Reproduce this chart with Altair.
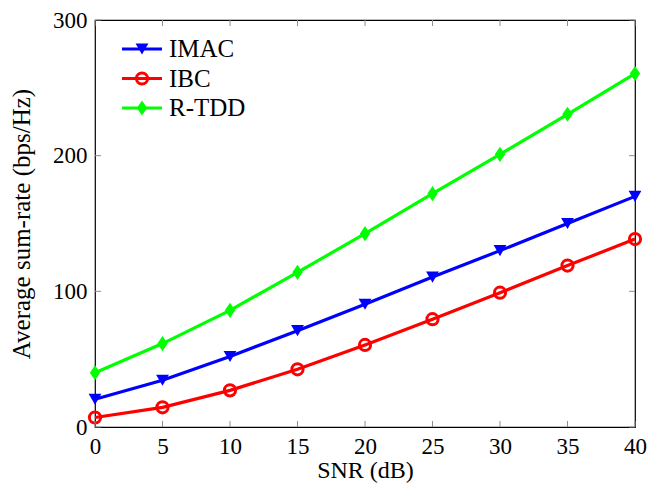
import altair as alt
import pandas as pd

# ---- data ----
snr = [0, 5, 10, 15, 20, 25, 30, 35, 40]
series_names = ["IMAC", "IBC", "R-TDD"]
imac = [20.5, 34.5, 52, 71, 90.5, 110.5, 130, 150, 170]
ibc = [7, 14.5, 27, 42.5, 60.5, 79.5, 99, 119, 138.5]
rtdd = [40, 61.5, 86, 114, 142.5, 172, 201, 230.5, 260.5]
x_ticks = [0, 5, 10, 15, 20, 25, 30, 35, 40]
y_ticks = [0, 100, 200, 300]

colors = ["#0000ff", "#ff0000", "#00ff00"]
FONT = "Liberation Serif"
FS = 23
TFS = 25
W, H = 540, 407
TICK = 6

rows = []
for name, vals in zip(series_names, [imac, ibc, rtdd]):
    for s, v in zip(snr, vals):
        rows.append({"snr": s, "rate": v, "series": name})
df = pd.DataFrame(rows)

xs = alt.Scale(domain=[0, 40], nice=False, zero=False)
ys = alt.Scale(domain=[0, 300], nice=False)
x_axis = alt.Axis(values=x_ticks, labelPadding=8, titlePadding=0, labelFlush=False,
                  titleFontSize=24)
y_axis = alt.Axis(values=y_ticks, labelPadding=8, titlePadding=18)
X_TITLE = "SNR (dB)"
Y_TITLE = "Average sum-rate (bps/Hz)"
color = alt.Color("series:N", scale=alt.Scale(domain=series_names, range=colors), legend=None)


def xenc(field):
    return alt.X(field, scale=xs, title=X_TITLE, axis=x_axis)


def yenc(field):
    return alt.Y(field, scale=ys, title=Y_TITLE, axis=y_axis)


markers = {
    "IMAC": dict(shape="triangle-down", filled=True, size=165),
    "IBC": dict(shape="circle", filled=False, size=125, strokeWidth=3),
    "R-TDD": dict(shape="M0,-1L0.68,0L0,1L-0.68,0Z", filled=True, size=230),
}

base = alt.Chart(df)
lines = base.mark_line(strokeWidth=3.2).encode(
    x=xenc("snr:Q"), y=yenc("rate:Q"), color=color)

point_layers = []
for name, c in zip(series_names, colors):
    point_layers.append(
        base.transform_filter(alt.datum.series == name)
        .mark_point(color=c, opacity=1, **markers[name])
        .encode(x=xenc("snr:Q"), y=yenc("rate:Q"))
    )

xt = alt.Chart(pd.DataFrame({"t": x_ticks}))
yt = alt.Chart(pd.DataFrame({"t": y_ticks}))
tick_style = dict(color="#8c8c8c", strokeWidth=1)
ticks = [
    xt.mark_rule(**tick_style).encode(x=xenc("t:Q"), y=alt.value(H), y2=alt.value(H - TICK)),
    xt.mark_rule(**tick_style).encode(x=xenc("t:Q"), y=alt.value(0), y2=alt.value(TICK)),
    yt.mark_rule(**tick_style).encode(y=yenc("t:Q"), x=alt.value(0), x2=alt.value(TICK)),
    yt.mark_rule(**tick_style).encode(y=yenc("t:Q"), x=alt.value(W), x2=alt.value(W - TICK)),
]

main = alt.layer(lines, *point_layers, *ticks)

# ---- manual legend (line + marker + label) ----
leg = alt.Chart(pd.DataFrame({"series": series_names}))
ly = alt.Y("series:N", scale=alt.Scale(type="point", domain=series_names,
                                       range=[29, 88], padding=0), axis=None)
leg_lines = leg.mark_rule(strokeWidth=3.2).encode(
    x=alt.value(27), x2=alt.value(67), y=ly, color=color)
leg_points = []
for name, c in zip(series_names, colors):
    leg_points.append(
        leg.transform_filter(alt.datum.series == name)
        .mark_point(color=c, opacity=1, **markers[name])
        .encode(x=alt.value(47), y=ly)
    )
leg_text = leg.mark_text(align="left", baseline="middle", font=FONT,
                         fontSize=25, color="black").encode(
    x=alt.value(74), y=ly, text="series:N")
legend = alt.layer(leg_lines, *leg_points, leg_text)

chart = (
    alt.layer(main, legend)
    .resolve_scale(y="independent")
    .properties(
        width=W, height=H,
        autosize=alt.AutoSizeParams(type="none"),
        padding={"left": 87, "top": 12, "right": 13, "bottom": 56},
    )
    .configure_view(stroke="black", strokeWidth=1.2)
    .configure_axis(
        labelFont=FONT, titleFont=FONT, labelFontSize=FS, titleFontSize=TFS,
        labelColor="black", titleColor="black", titleFontWeight="normal",
        domain=False, ticks=False, grid=False,
    )
)

chart.save("out.html", embed_options={"renderer": "svg", "actions": False})
